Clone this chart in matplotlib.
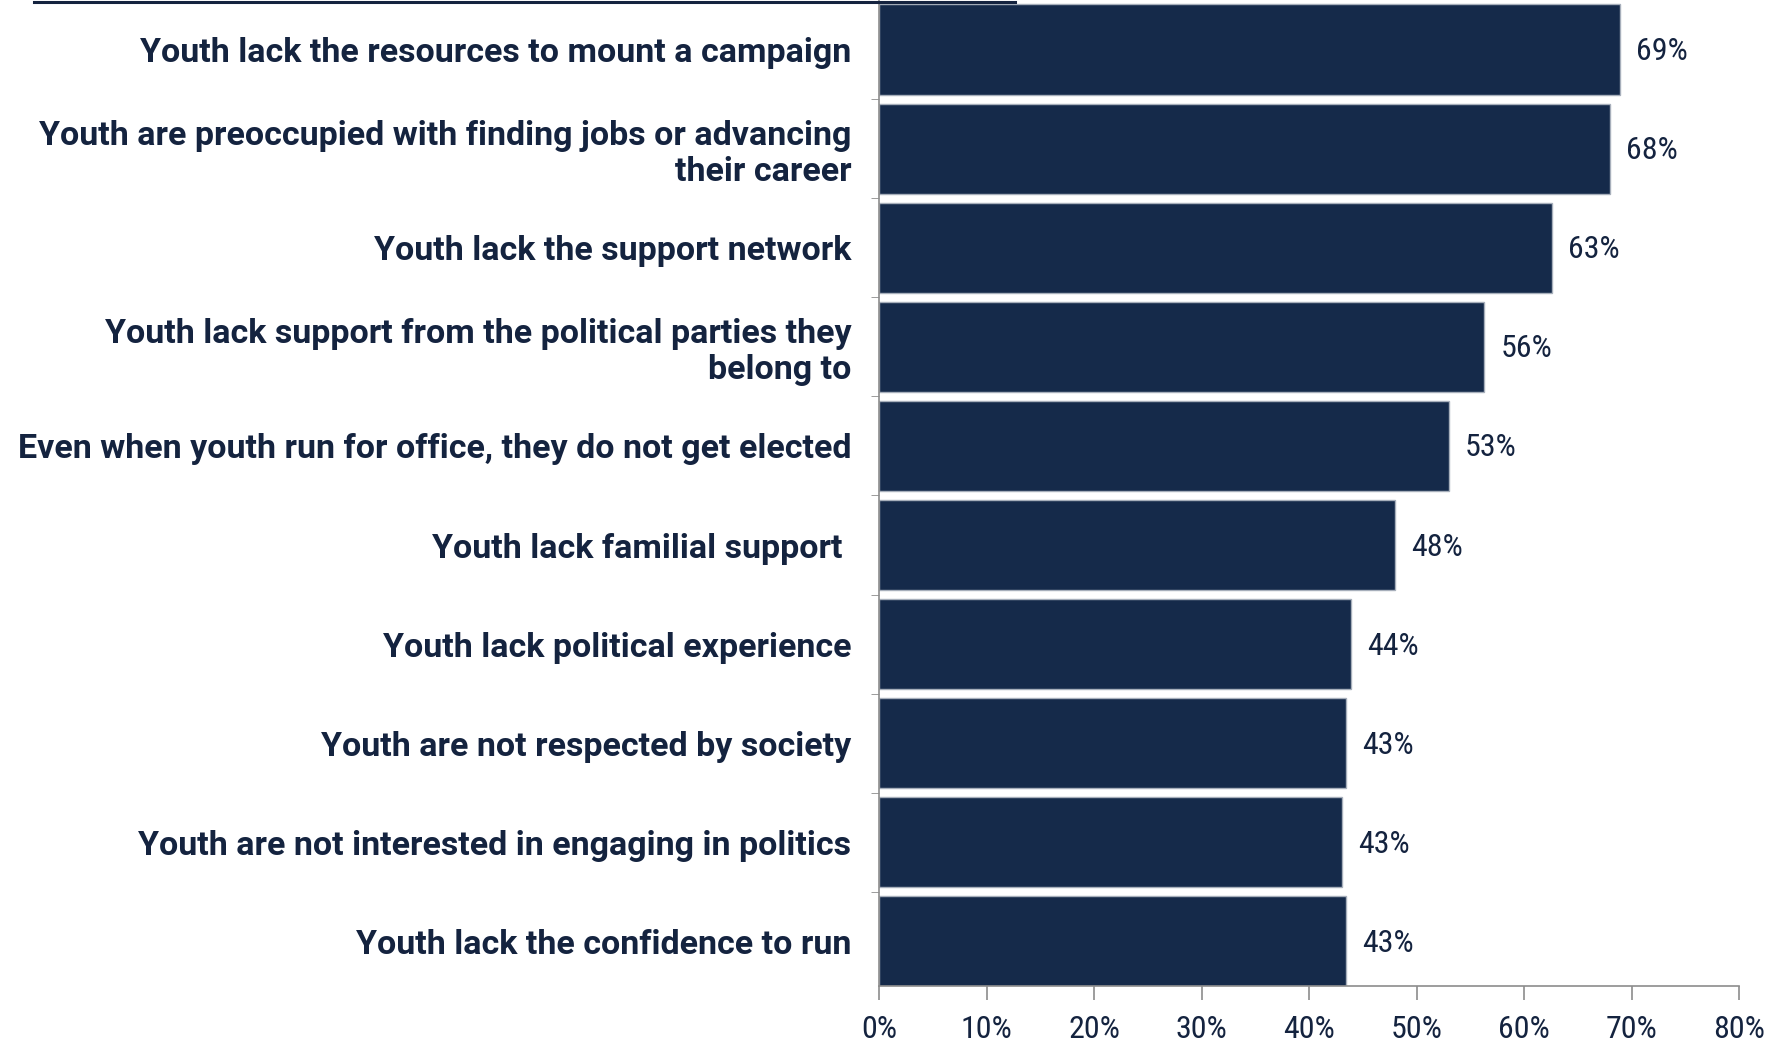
import matplotlib
matplotlib.use("Agg")
import matplotlib.pyplot as plt
from matplotlib.lines import Line2D

categories = [
    "Youth lack the resources to mount a campaign",
    "Youth are preoccupied with finding jobs or advancing\ntheir career",
    "Youth lack the support network",
    "Youth lack support from the political parties they\nbelong to",
    "Even when youth run for office, they do not get elected",
    "Youth lack familial support ",
    "Youth lack political experience",
    "Youth are not respected by society",
    "Youth are not interested in engaging in politics",
    "Youth lack the confidence to run",
]
values = [68.9, 68.0, 62.6, 56.3, 53.0, 48.0, 43.9, 43.4, 43.1, 43.4]
xticks = [0, 10, 20, 30, 40, 50, 60, 70, 80]
xticklabels = [f"{t}%" for t in xticks]

NAVY = "#152a4a"
TEXT = "#14233f"
GREY = "#8c8c8c"
NUMFONT = ["Liberation Sans Narrow", "Roboto Condensed", "DejaVu Sans"]
LABFONT = ["Roboto", "DejaVu Sans"]

fig = plt.figure(figsize=(17.85, 10.45), dpi=100)
ax = fig.add_axes([879/1785, 59/1045, (1739-879)/1785, (1045-59)/1045])

ypos = list(range(len(categories)))
bars = ax.barh(ypos, values, height=0.91, color=NAVY, edgecolor="#a7afbb", linewidth=1.0)

ax.set_xlim(0, 80)
ax.set_ylim(9.45, -0.5)

for y, v in zip(ypos, values):
    ax.text(v + 1.5, y + 0.02, f"{v:.0f}%", va="center", ha="left", fontsize=23,
            color=TEXT, family=NUMFONT)

ax.set_yticks(ypos)
ax.set_yticklabels(categories, fontsize=24.5, fontweight="bold", color=TEXT,
                   family=LABFONT, ha="right", multialignment="right",
                   linespacing=1.15)
ax.tick_params(axis="y", which="major", length=0, pad=20)
ax.set_yticks([i + 0.5 for i in range(9)], minor=True)
ax.tick_params(axis="y", which="minor", length=6, color=GREY, direction="out")

ax.set_xticks(xticks)
ax.set_xticklabels(xticklabels, fontsize=23, color=TEXT, family=NUMFONT)
ax.tick_params(axis="x", length=10, color=GREY, width=1.2, pad=11)

for s in ["top", "right"]:
    ax.spines[s].set_visible(False)
for s in ["left", "bottom"]:
    ax.spines[s].set_color(GREY)
    ax.spines[s].set_linewidth(1.2)

fig.add_artist(Line2D([34/1785, 1015/1785], [1 - 1.5/1045] * 2, color=TEXT, lw=2.2))

fig.savefig("out.png", dpi=100)
